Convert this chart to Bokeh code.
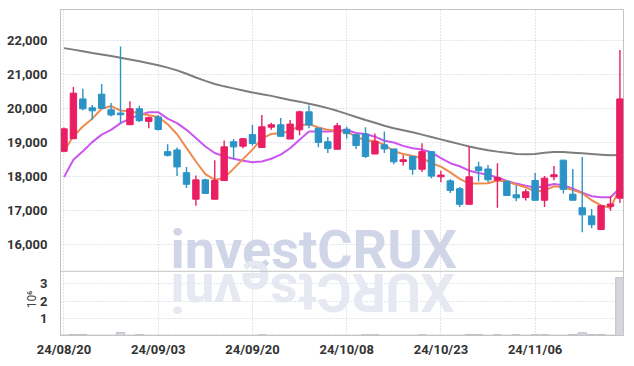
import math
from bokeh.plotting import figure
from bokeh.models import ColumnDataSource, Range1d, FixedTicker, Label, NumeralTickFormatter, Span
from bokeh.embed import file_html
from bokeh.resources import INLINE

# ---------------- data ----------------
dates = ["24/08/20", "24/08/21", "24/08/22", "24/08/23", "24/08/26", "24/08/27", "24/08/28", "24/08/29", "24/08/30", "24/09/02",
         "24/09/03", "24/09/04", "24/09/05", "24/09/06", "24/09/09", "24/09/10", "24/09/11", "24/09/12", "24/09/13", "24/09/19",
         "24/09/20", "24/09/23", "24/09/24", "24/09/25", "24/09/26", "24/09/27", "24/09/30", "24/10/02", "24/10/04", "24/10/07",
         "24/10/08", "24/10/10", "24/10/11", "24/10/14", "24/10/15", "24/10/16", "24/10/17", "24/10/18", "24/10/21", "24/10/22",
         "24/10/23", "24/10/24", "24/10/25", "24/10/28", "24/10/29", "24/10/30", "24/10/31", "24/11/01", "24/11/04", "24/11/05",
         "24/11/06", "24/11/07", "24/11/08", "24/11/11", "24/11/12", "24/11/13", "24/11/14", "24/11/15", "24/11/18", "24/11/19"]

opens = [18730, 19100, 20270, 20010, 20410, 19950, 19840, 19510, 19980, 19610,
         19740, 18720, 18770, 18100, 17320, 17890, 17320, 17870, 19010, 18880,
         19220, 18840, 19440, 19510, 19090, 19360, 19890, 19410, 19010, 18790,
         19380, 19220, 19240, 18650, 18920, 18800, 18440, 18580, 18200, 18720,
         17990, 17860, 17630, 17170, 18270, 18210, 17880, 17840, 17450, 17370,
         17870, 17290, 17980, 18470, 17470, 17070, 16830, 16430, 17110, 17350]
highs = [19430, 20620, 20570, 20090, 20710, 20150, 21810, 20200, 20070, 19750,
         19800, 18940, 18840, 18270, 18020, 17920, 18470, 19050, 19090, 19120,
         19510, 19800, 19570, 19710, 19650, 19920, 20080, 19410, 19150, 19560,
         19450, 19240, 19440, 19250, 19310, 18800, 18610, 18580, 18970, 18720,
         18160, 17910, 17680, 18880, 18420, 18330, 18380, 17880, 17730, 17610,
         18100, 18000, 18300, 18470, 18210, 18560, 17030, 17130, 17410, 21710]
lows = [18700, 19090, 19940, 19660, 19980, 19750, 19530, 19500, 19590, 19410,
        19340, 18580, 18000, 17650, 17130, 17490, 17320, 17870, 18520, 18820,
        18890, 18840, 19360, 19170, 19090, 19200, 19410, 18850, 18680, 18790,
        19100, 18800, 18530, 18650, 18680, 18350, 18310, 18040, 18120, 17940,
        17820, 17500, 17090, 17170, 17840, 17820, 17070, 17430, 17260, 17280,
        17280, 17090, 17880, 17490, 17290, 16350, 16470, 16430, 16980, 17210]
closes = [19390, 20440, 19980, 19920, 19990, 19800, 19820, 19980, 19630, 19720,
          19370, 18610, 18270, 17760, 17890, 17490, 17870, 18860, 18860, 19100,
          18960, 19450, 19510, 19170, 19530, 19890, 19500, 18990, 18810, 19480,
          19250, 18900, 18580, 19020, 18800, 18420, 18470, 18200, 18720, 18000,
          18020, 17580, 17170, 17980, 18160, 17890, 17960, 17430, 17360, 17540,
          17290, 17940, 18040, 17610, 17290, 16860, 16570, 17130, 17180, 20270]

ma5 = [18730, 19170, 19460, 19690, 19980, 20060, 19930, 19910, 19850, 19790,
       19740, 19530, 19230, 18830, 18430, 18060, 17890, 17940, 18220, 18500,
       18780, 19100, 19240, 19270, 19310, 19490, 19530, 19430, 19360, 19330,
       19300, 19170, 19040, 19040, 18920, 18730, 18650, 18590, 18530, 18380,
       18280, 18110, 17920, 17780, 17780, 17790, 17870, 17840, 17750, 17670,
       17550, 17580, 17700, 17670, 17590, 17500, 17290, 17140, 17060, 17660]
ma20 = [17970, 18480, 18730, 19000, 19220, 19360, 19560, 19690, 19800, 19880,
        19880, 19690, 19560, 19360, 19120, 18870, 18680, 18580, 18510, 18450,
        18410, 18430, 18510, 18630, 18820, 19070, 19310, 19310, 19310, 19330,
        19360, 19270, 19240, 19160, 19040, 18990, 18890, 18820, 18780, 18700,
        18530, 18380, 18290, 18160, 18090, 18040, 17960, 17860, 17780, 17720,
        17660, 17700, 17770, 17730, 17630, 17510, 17410, 17380, 17380, 17650]
ma60 = [21764, 21720, 21670, 21620, 21575, 21530, 21480, 21430, 21380, 21320,
        21260, 21190, 21110, 21010, 20900, 20800, 20710, 20640, 20580, 20520,
        20460, 20410, 20360, 20300, 20240, 20190, 20130, 20070, 20000, 19920,
        19830, 19740, 19650, 19570, 19480, 19410, 19350, 19290, 19220, 19150,
        19080, 19010, 18940, 18870, 18810, 18760, 18720, 18690, 18650, 18645,
        18650, 18690, 18710, 18710, 18690, 18670, 18650, 18630, 18610, 18620]

volumes = [30000, 60000, 60000, 20000, 20000, 20000, 170000, 20000, 55000, 20000,
           20000, 20000, 20000, 20000, 20000, 20000, 20000, 20000, 20000, 20000,
           20000, 50000, 20000, 20000, 20000, 20000, 20000, 20000, 20000, 20000,
           20000, 20000, 50000, 50000, 20000, 20000, 20000, 20000, 50000, 20000,
           20000, 20000, 20000, 60000, 60000, 20000, 50000, 20000, 50000, 20000,
           50000, 50000, 20000, 20000, 60000, 160000, 60000, 60000, 20000, 3350000]

price_ticks = [16000, 17000, 18000, 19000, 20000, 21000, 22000]
date_tick_idx = [0, 10, 20, 30, 40, 50]
vol_ticks = [1, 2, 3]          # in millions of shares
vol_unit_label = "10\u2076"
watermark = "investCRUX"

# ---------------- styling ----------------
RED = "#e91e63"
BLUE = "#2b93c6"
GRID = "#c6cadf"
AXIS = "#c4c4c4"
LABEL_FONT = "Roboto"

idx = list(range(len(dates)))
colors = [RED if c >= o else BLUE for o, c in zip(opens, closes)]
tops, bots = [], []
for o, c in zip(opens, closes):
    t, b = max(o, c), min(o, c)
    if t - b < 50:
        m = (t + b) / 2
        t, b = m + 25, m - 25
    tops.append(t)
    bots.append(b)

src = ColumnDataSource(dict(x=idx, o=opens, h=highs, l=lows, c=closes, top=tops, bot=bots, color=colors,
                            ma5=ma5, ma20=ma20, ma60=ma60, vol=[v / 1e6 for v in volumes]))

# ---------------- geometry ----------------
XMIN, XMAX = -0.37, 59.38
SHIFT = 12                      # left panel is wider than needed; pull the figure left by this much
W, H = 626 + SHIFT, 359
BL, BR, BT = 60 + SHIFT, 3, 9
FRAME_W = W - BL - BR
px_per_unit = FRAME_W / (XMAX - XMIN)

PRICE_PER_PX = 29.31
SPLIT = 15200                        # price value at the panel separator
YMAX = 22900
Y0 = SPLIT - 64.4 * PRICE_PER_PX     # bottom of the volume panel in price units
VMAX = 3.72                          # volume (millions) at the separator
vol_range_end = VMAX * (YMAX - Y0) / (SPLIT - Y0)

p = figure(width=W, height=H, x_range=Range1d(XMIN, XMAX), y_range=Range1d(Y0, YMAX),
           output_backend="svg", toolbar_location=None,
           min_border_left=BL, min_border_right=BR, min_border_top=BT, min_border_bottom=0)
p.margin = (0, 0, 0, -SHIFT)
p.extra_y_ranges = {"vol": Range1d(0, vol_range_end)}
p.outline_line_color = AXIS

# y axis: price ticks above the separator, volume ticks (in millions) below it
vol_tick_pos = [round(Y0 + t / VMAX * (SPLIT - Y0)) for t in vol_ticks]
p.yaxis.ticker = FixedTicker(ticks=price_ticks + vol_tick_pos)
p.yaxis.formatter = NumeralTickFormatter(format="0,0")
p.yaxis.major_label_overrides = {pos: str(t) for pos, t in zip(vol_tick_pos, vol_ticks)}
p.yaxis.major_label_standoff = 7
p.xaxis.ticker = FixedTicker(ticks=date_tick_idx)
p.xaxis.major_label_overrides = {i: dates[i] for i in date_tick_idx}
p.xaxis.major_label_standoff = 0
for ax in (p.xaxis[0], p.yaxis[0]):
    ax.major_tick_line_color = None
    ax.minor_tick_line_color = None
    ax.axis_line_color = AXIS
    ax.major_label_text_font = LABEL_FONT
    ax.major_label_text_font_size = "13px"
    ax.major_label_text_font_style = "bold"
    ax.major_label_text_color = "#333333"
for g in (p.xgrid[0], p.ygrid[0]):
    g.grid_line_color = GRID
    g.grid_line_dash = "1 2"
    g.grid_line_width = 1

# unit label of the volume axis (placed in the left side panel so it is not clipped)
p.add_layout(Label(x=XMIN - 29 / px_per_unit, y=(SPLIT + Y0) / 2 + 4 * PRICE_PER_PX, text=vol_unit_label,
                   angle=math.pi / 2, text_font=LABEL_FONT, text_font_size="12px", text_color="#444444",
                   text_align="center", text_baseline="middle"), "left")

# watermark and its reflection
wm_x = XMIN + 110 / px_per_unit
p.add_layout(Label(x=wm_x, y=SPLIT, y_offset=-10, text=watermark, text_font=LABEL_FONT, text_font_style="bold",
                   text_font_size="54px", text_color="#d0d5e8", text_baseline="bottom",
                   text_align="left", level="underlay"))
adv = {"i": 0.259, "n": 0.554, "v": 0.497, "e": 0.532, "s": 0.518, "t": 0.341,
       "C": 0.656, "R": 0.631, "U": 0.639, "X": 0.637}
fs = 54
cum = 0.0
for ch in watermark:
    a = adv[ch]
    cx = wm_x + (cum + a / 2) * fs / px_per_unit
    cum += a
    p.add_layout(Label(x=cx, y=SPLIT, y_offset=10, text=ch, angle=math.pi, text_font=LABEL_FONT,
                       text_font_style="bold", text_font_size="54px", text_color="#e6e8f2",
                       text_align="center", text_baseline="bottom", level="underlay"))

# panel separator
p.add_layout(Span(location=SPLIT, dimension="width", line_color=AXIS, line_width=1))

# volume bars
p.vbar(x="x", top="vol", width=0.9, source=src, y_range_name="vol",
       fill_color="#d6d6dd", line_color="#bfbfc8", line_width=1)

# moving averages and candles
p.line("x", "ma60", source=src, color="#7d7d7d", line_width=2)
p.line("x", "ma20", source=src, color="#cc55ee", line_width=2)
p.line("x", "ma5", source=src, color="#ef8a4e", line_width=2)
p.segment(x0="x", y0="l", x1="x", y1="h", source=src, color="color", line_width=1.4)
p.vbar(x="x", top="top", bottom="bot", width=0.68, source=src, fill_color="color", line_color="color", line_width=1)

open("out.html", "w").write(file_html(p, INLINE))
